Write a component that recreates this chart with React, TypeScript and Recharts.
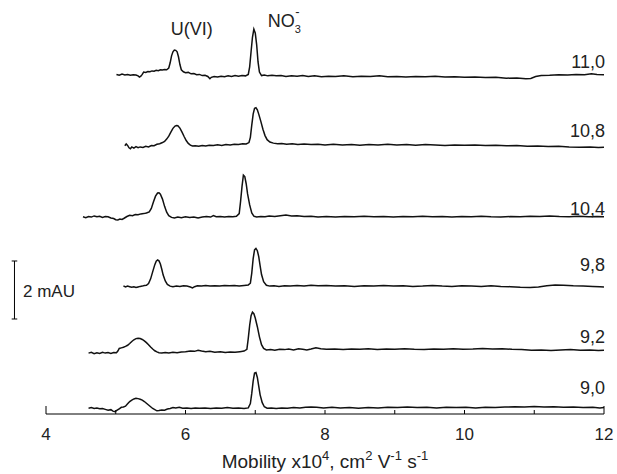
import React from 'react';
import { LineChart, Line, XAxis, YAxis, ReferenceDot, ReferenceLine } from 'recharts';

const FONT = '"Liberation Sans", Arial, Helvetica, sans-serif';
const INK = '#111';

// pH labels for the six electropherograms (top to bottom)
const pHLabels = ['11,0', '10,8', '10,4', '9,8', '9,2', '9,0'];
// vertical offsets of each trace baseline (mAU)
const baselineOffsets = [11.69, 9.24, 6.79, 4.41, 2.21, 0.21];
// height of each pH label above its trace (mAU)
const labelLift = [0.24, 0.31, 0.07, 0.53, 0.24, 0.48];

const xTicks = [4, 5, 6, 7, 8, 9, 10, 11, 12];

// [mobility x10^4, signal mAU relative to baseline]
const trace110: [number, number][] = [
  [5.01,0.02],[5.05,-0.01],[5.09,0.03],[5.13,0.00],[5.17,0.02],[5.21,-0.01],[5.25,0.01],[5.29,0.00],[5.32,-0.03],[5.34,-0.07],[5.36,-0.04],[5.38,0.02],[5.40,0.10],[5.43,0.09],[5.46,0.12],[5.49,0.11],[5.52,0.14],[5.55,0.13],[5.58,0.16],[5.61,0.15],[5.64,0.18],[5.67,0.17],[5.70,0.19],[5.73,0.18],[5.76,0.24],[5.78,0.42],[5.80,0.66],[5.82,0.80],[5.84,0.86],[5.86,0.85],[5.88,0.80],[5.90,0.62],[5.92,0.36],[5.94,0.18],[5.97,0.11],[6.00,0.08],[6.04,0.09],[6.08,0.04],[6.12,0.05],[6.16,0.01],[6.20,0.02],[6.24,-0.02],[6.28,-0.01],[6.32,-0.05],[6.35,-0.13],[6.37,-0.08],[6.41,-0.05],[6.46,-0.07],[6.51,-0.04],[6.56,-0.06],[6.61,-0.03],[6.66,-0.05],[6.71,-0.02],[6.76,-0.04],[6.81,-0.02],[6.86,-0.03],[6.90,0.02],[6.92,0.28],[6.94,0.80],[6.96,1.30],[6.98,1.58],[7.00,1.45],[7.02,1.05],[7.04,0.45],[7.06,0.10],[7.09,-0.02],[7.13,0.00],[7.18,-0.03],[7.24,-0.01],[7.30,-0.03],[7.37,-0.02],[7.44,-0.05],[7.52,-0.03],[7.60,-0.04],[7.68,-0.02],[7.76,-0.05],[7.85,-0.03],[7.95,-0.06],[8.05,-0.04],[8.15,-0.05],[8.27,-0.03],[8.40,-0.06],[8.52,-0.04],[8.65,-0.05],[8.78,-0.03],[8.90,-0.06],[9.03,-0.05],[9.16,-0.07],[9.30,-0.05],[9.44,-0.06],[9.58,-0.04],[9.72,-0.07],[9.86,-0.06],[10.00,-0.08],[10.15,-0.07],[10.30,-0.09],[10.45,-0.08],[10.60,-0.11],[10.75,-0.10],[10.88,-0.13],[10.95,-0.12],[11.02,-0.05],[11.10,-0.02],[11.22,-0.01],[11.35,0.01],[11.48,0.00],[11.60,0.02],[11.72,0.01],[11.82,0.04],[11.90,0.02],[12.00,0.01],
];

const trace108: [number, number][] = [
  [5.13,0.01],[5.15,0.07],[5.17,0.02],[5.19,-0.06],[5.21,-0.09],[5.23,-0.03],[5.26,-0.07],[5.29,-0.02],[5.32,-0.06],[5.35,-0.03],[5.39,-0.05],[5.43,-0.01],[5.47,-0.03],[5.51,0.02],[5.55,0.01],[5.59,0.06],[5.63,0.08],[5.67,0.12],[5.70,0.16],[5.73,0.24],[5.76,0.34],[5.79,0.48],[5.82,0.61],[5.85,0.69],[5.87,0.71],[5.89,0.70],[5.92,0.62],[5.95,0.48],[5.98,0.33],[6.01,0.19],[6.04,0.09],[6.07,0.03],[6.10,0.00],[6.14,0.01],[6.19,-0.01],[6.24,0.02],[6.29,0.00],[6.34,0.03],[6.40,0.02],[6.46,0.04],[6.52,0.02],[6.58,0.05],[6.64,0.04],[6.70,0.06],[6.76,0.05],[6.82,0.08],[6.87,0.07],[6.91,0.12],[6.93,0.30],[6.95,0.72],[6.97,1.10],[6.99,1.30],[7.01,1.32],[7.03,1.25],[7.05,1.10],[7.08,0.85],[7.11,0.58],[7.14,0.36],[7.17,0.22],[7.21,0.14],[7.26,0.10],[7.32,0.08],[7.38,0.09],[7.45,0.06],[7.53,0.08],[7.61,0.05],[7.70,0.07],[7.80,0.05],[7.90,0.06],[8.00,0.04],[8.12,0.06],[8.25,0.04],[8.38,0.05],[8.50,0.03],[8.63,0.05],[8.76,0.04],[8.90,0.06],[9.03,0.04],[9.17,0.05],[9.30,0.03],[9.44,0.05],[9.58,0.04],[9.72,0.02],[9.86,0.04],[10.00,0.03],[10.15,0.04],[10.30,0.02],[10.45,0.03],[10.60,0.01],[10.75,0.02],[10.90,-0.01],[11.05,0.00],[11.20,-0.02],[11.35,-0.01],[11.50,-0.03],[11.65,-0.04],[11.80,-0.03],[11.92,-0.05],[12.00,-0.04],
];

const trace104: [number, number][] = [
  [4.53,0.01],[4.57,-0.02],[4.61,0.02],[4.65,0.00],[4.69,0.04],[4.73,0.01],[4.77,0.03],[4.81,-0.01],[4.85,0.02],[4.89,0.01],[4.93,-0.03],[4.97,-0.05],[5.00,-0.09],[5.03,-0.10],[5.06,-0.07],[5.09,-0.08],[5.12,-0.04],[5.16,0.02],[5.20,0.06],[5.24,0.05],[5.28,0.09],[5.32,0.08],[5.36,0.11],[5.40,0.12],[5.44,0.14],[5.48,0.18],[5.51,0.30],[5.54,0.52],[5.57,0.72],[5.60,0.83],[5.62,0.84],[5.64,0.79],[5.67,0.62],[5.70,0.37],[5.73,0.17],[5.76,0.05],[5.80,-0.01],[5.84,-0.03],[5.89,0.00],[5.94,-0.02],[6.00,0.01],[6.06,-0.01],[6.12,0.00],[6.18,-0.03],[6.24,0.00],[6.30,0.02],[6.36,0.00],[6.40,0.05],[6.44,0.01],[6.50,0.02],[6.56,0.00],[6.62,0.02],[6.68,0.01],[6.73,0.03],[6.77,0.12],[6.79,0.55],[6.81,1.05],[6.83,1.45],[6.85,1.40],[6.87,1.15],[6.89,0.80],[6.92,0.42],[6.95,0.14],[6.98,0.03],[7.02,0.00],[7.08,0.02],[7.14,0.01],[7.20,0.04],[7.28,0.02],[7.36,0.05],[7.44,0.07],[7.52,0.04],[7.60,0.05],[7.70,0.02],[7.80,0.03],[7.90,0.00],[8.02,0.02],[8.15,0.00],[8.28,0.02],[8.42,0.01],[8.56,0.03],[8.70,0.01],[8.84,0.02],[8.98,0.00],[9.12,0.02],[9.26,0.01],[9.40,0.03],[9.54,0.01],[9.68,0.02],[9.82,0.00],[9.96,0.02],[10.10,0.01],[10.24,0.03],[10.38,0.01],[10.52,0.00],[10.66,0.02],[10.80,0.01],[10.94,0.03],[11.08,0.02],[11.22,0.04],[11.36,0.02],[11.50,0.01],[11.64,0.03],[11.78,0.01],[11.90,0.02],[12.00,0.01],
];

const trace98: [number, number][] = [
  [5.11,0.01],[5.14,-0.03],[5.17,0.00],[5.20,-0.02],[5.23,-0.04],[5.26,-0.02],[5.29,-0.05],[5.32,-0.03],[5.35,-0.01],[5.38,0.00],[5.41,0.02],[5.44,0.03],[5.47,0.09],[5.50,0.25],[5.53,0.50],[5.56,0.74],[5.58,0.86],[5.60,0.90],[5.62,0.87],[5.64,0.76],[5.66,0.58],[5.68,0.38],[5.71,0.18],[5.74,0.06],[5.78,0.00],[5.82,-0.02],[5.87,0.00],[5.92,-0.01],[5.97,0.01],[6.02,0.00],[6.07,-0.03],[6.10,-0.06],[6.13,-0.02],[6.17,0.01],[6.23,0.00],[6.29,0.02],[6.35,0.00],[6.42,0.01],[6.49,0.00],[6.56,0.02],[6.63,0.01],[6.70,0.02],[6.77,0.00],[6.84,0.02],[6.90,0.04],[6.93,0.10],[6.95,0.45],[6.97,0.95],[6.99,1.25],[7.01,1.30],[7.03,1.22],[7.05,1.02],[7.07,0.70],[7.09,0.40],[7.12,0.15],[7.16,0.03],[7.21,0.00],[7.27,0.01],[7.34,-0.01],[7.42,0.01],[7.50,0.00],[7.60,0.02],[7.70,0.00],[7.80,0.03],[7.90,0.01],[8.02,0.02],[8.15,0.00],[8.28,0.01],[8.42,-0.01],[8.56,0.01],[8.70,0.00],[8.84,0.02],[8.98,0.00],[9.12,0.01],[9.26,-0.01],[9.40,0.00],[9.54,0.02],[9.68,0.00],[9.82,-0.01],[9.96,0.01],[10.10,0.00],[10.24,-0.01],[10.38,0.01],[10.52,-0.01],[10.66,-0.02],[10.80,-0.04],[10.94,-0.05],[11.06,-0.03],[11.18,0.01],[11.30,0.04],[11.42,0.03],[11.56,0.01],[11.70,0.00],[11.84,-0.01],[11.94,-0.02],[12.00,-0.03],
];

const trace92: [number, number][] = [
  [4.61,-0.11],[4.65,-0.08],[4.69,-0.13],[4.73,-0.10],[4.77,-0.12],[4.81,-0.08],[4.85,-0.11],[4.89,-0.09],[4.93,-0.12],[4.97,-0.09],[5.01,-0.10],[5.03,-0.04],[5.05,0.05],[5.08,0.07],[5.11,0.09],[5.14,0.12],[5.17,0.16],[5.20,0.22],[5.23,0.29],[5.26,0.35],[5.29,0.39],[5.32,0.40],[5.35,0.39],[5.38,0.36],[5.41,0.31],[5.44,0.25],[5.47,0.18],[5.50,0.10],[5.53,0.03],[5.56,-0.03],[5.59,-0.07],[5.62,-0.10],[5.66,-0.11],[5.71,-0.09],[5.76,-0.11],[5.82,-0.08],[5.88,-0.10],[5.94,-0.07],[6.00,-0.06],[6.07,-0.04],[6.13,-0.05],[6.18,-0.01],[6.23,-0.04],[6.29,-0.06],[6.35,-0.05],[6.42,-0.08],[6.50,-0.06],[6.57,-0.09],[6.64,-0.07],[6.71,-0.08],[6.78,-0.06],[6.84,-0.04],[6.88,0.02],[6.90,0.40],[6.92,0.85],[6.94,1.18],[6.96,1.30],[6.98,1.25],[7.00,1.10],[7.03,0.80],[7.06,0.45],[7.09,0.18],[7.12,0.05],[7.16,0.00],[7.22,0.01],[7.28,-0.01],[7.35,0.02],[7.42,0.01],[7.48,0.03],[7.55,0.00],[7.62,0.04],[7.68,0.02],[7.74,0.00],[7.80,0.03],[7.87,0.07],[7.94,0.04],[8.02,0.02],[8.14,0.03],[8.26,0.01],[8.38,0.03],[8.50,0.02],[8.62,0.04],[8.75,0.01],[8.88,0.03],[9.00,0.02],[9.14,0.04],[9.28,0.02],[9.42,0.01],[9.56,0.03],[9.70,0.02],[9.84,0.04],[9.98,0.02],[10.12,0.03],[10.26,0.05],[10.40,0.03],[10.54,0.04],[10.68,0.02],[10.82,0.01],[10.96,-0.01],[11.10,0.00],[11.24,-0.02],[11.38,0.00],[11.52,0.01],[11.66,-0.01],[11.80,0.00],[11.92,-0.02],[12.00,-0.01],
];

const trace90: [number, number][] = [
  [4.61,-0.01],[4.65,0.01],[4.69,-0.02],[4.73,0.00],[4.77,-0.03],[4.81,-0.02],[4.85,-0.05],[4.89,-0.08],[4.93,-0.06],[4.96,-0.11],[4.99,-0.13],[5.02,-0.08],[5.05,-0.03],[5.08,0.02],[5.11,0.03],[5.14,0.06],[5.17,0.14],[5.20,0.22],[5.23,0.27],[5.26,0.31],[5.29,0.33],[5.32,0.32],[5.35,0.30],[5.38,0.27],[5.41,0.22],[5.44,0.16],[5.47,0.10],[5.50,0.04],[5.53,-0.02],[5.56,-0.06],[5.59,-0.10],[5.62,-0.09],[5.66,-0.07],[5.70,-0.08],[5.74,-0.04],[5.78,-0.02],[5.82,0.01],[5.86,0.00],[5.91,0.02],[5.96,-0.01],[6.02,0.00],[6.08,-0.02],[6.14,0.00],[6.20,-0.01],[6.28,0.00],[6.36,-0.02],[6.44,0.00],[6.52,-0.01],[6.60,0.01],[6.68,-0.01],[6.76,0.00],[6.84,-0.02],[6.90,0.00],[6.93,0.15],[6.95,0.50],[6.97,0.92],[6.99,1.20],[7.01,1.22],[7.03,1.05],[7.05,0.75],[7.07,0.45],[7.10,0.18],[7.13,0.04],[7.17,-0.01],[7.23,0.00],[7.30,-0.02],[7.38,0.00],[7.46,-0.01],[7.55,0.01],[7.64,0.00],[7.72,0.02],[7.80,0.03],[7.88,0.02],[7.98,0.00],[8.10,0.02],[8.22,0.00],[8.35,0.01],[8.48,-0.01],[8.62,0.01],[8.76,0.00],[8.90,0.02],[9.04,0.01],[9.18,0.03],[9.32,0.01],[9.46,0.02],[9.60,0.00],[9.74,0.02],[9.88,0.01],[10.02,0.02],[10.16,0.00],[10.30,0.02],[10.44,0.01],[10.58,0.03],[10.72,0.04],[10.86,0.03],[11.00,0.05],[11.14,0.03],[11.28,0.04],[11.42,0.02],[11.56,0.03],[11.70,0.01],[11.84,0.02],[11.94,0.00],[12.00,0.01],
];

const traces = [trace110, trace108, trace104, trace98, trace92, trace90];

// scale bar: 2 mAU
const scaleBarValue = 2;
const scaleBarX = 3.548;
const scaleBarBottom = 3.276;

const seriesData = traces.map((t, i) =>
  t.map(([x, y]) => ({ x, y: y + baselineOffsets[i] }))
);

function AxisTick(props: any) {
  const { x, y, payload } = props;
  const v = payload.value;
  const isEnd = v === 4 || v === 12;
  const isMajor = v % 2 === 0;
  return (
    <g>
      <line x1={x} x2={x} y1={y} y2={y - (isEnd ? 8 : 4)} stroke="#000" strokeWidth={1} />
      {isMajor && (
        <text x={x} y={y + 26} textAnchor="middle" fontSize={17} fontFamily={FONT} fill="#222">
          {v}
        </text>
      )}
    </g>
  );
}

function AxisTitle(props: any) {
  const vb = props.viewBox || { x: 46, y: 414, width: 558, height: 60 };
  const cx = vb.x + vb.width / 2;
  const y = vb.y + 54;
  return (
    <text x={cx} y={y} textAnchor="middle" fontSize={19} fontFamily={FONT} fill="#222">
      Mobility x10
      <tspan dy={-8} fontSize={13}>4</tspan>
      <tspan dy={8}>, cm</tspan>
      <tspan dy={-8} fontSize={13}>2</tspan>
      <tspan dy={8}> V</tspan>
      <tspan dy={-8} fontSize={13}>-1</tspan>
      <tspan dy={8}> s</tspan>
      <tspan dy={-8} fontSize={13}>-1</tspan>
    </text>
  );
}

const textAt = (text: string, anchor: 'start' | 'middle' | 'end', size: number) => (p: any) => {
  const vb = p.viewBox || {};
  return (
    <text x={vb.x} y={vb.y} textAnchor={anchor} fontSize={size} fontFamily={FONT} fill="#222">
      {text}
    </text>
  );
};

const no3Label = (p: any) => {
  const vb = p.viewBox || {};
  return (
    <g fontFamily={FONT} fill="#222">
      <text x={vb.x} y={vb.y} fontSize={18}>NO</text>
      <text x={vb.x + 27} y={vb.y + 6} fontSize={11}>3</text>
      <text x={vb.x + 27.5} y={vb.y - 11} fontSize={13}>-</text>
    </g>
  );
};

export default function App() {
  return (
    <div style={{ position: 'absolute', left: 0, top: 0, background: '#fff' }}>
      <LineChart width={617} height={474} margin={{ top: 8, right: 13, left: 46, bottom: 0 }}>
        <XAxis
          type="number"
          dataKey="x"
          domain={[4, 12]}
          allowDataOverflow
          ticks={xTicks}
          interval={0}
          tickLine={false}
          tickSize={0}
          tickMargin={0}
          tick={<AxisTick />}
          height={60}
          axisLine={{ stroke: '#000', strokeWidth: 1 }}
          label={{ content: (p: any) => <AxisTitle {...p} /> }}
        />
        <YAxis type="number" domain={[0, 14]} hide allowDataOverflow />
        {seriesData.map((d, i) => (
          <Line
            key={pHLabels[i]}
            data={d}
            dataKey="y"
            type="linear"
            stroke={INK}
            strokeWidth={1.5}
            dot={false}
            isAnimationActive={false}
          />
        ))}
        {pHLabels.map((lab, i) => (
          <ReferenceDot
            key={'l' + lab}
            x={12.014}
            y={baselineOffsets[i] + labelLift[i]}
            r={0}
            stroke="none"
            fill="none"
            ifOverflow="visible"
            label={textAt(lab, 'end', 18)}
          />
        ))}
        <ReferenceDot x={6.09} y={13.07} r={0} stroke="none" fill="none" ifOverflow="visible" label={textAt('U(VI)', 'middle', 18)} />
        <ReferenceDot x={7.18} y={13.34} r={0} stroke="none" fill="none" ifOverflow="visible" label={no3Label} />
        <ReferenceLine
          segment={[{ x: scaleBarX, y: scaleBarBottom }, { x: scaleBarX, y: scaleBarBottom + scaleBarValue }]}
          stroke="#000"
          strokeWidth={1}
          ifOverflow="visible"
        />
        <ReferenceLine
          segment={[{ x: scaleBarX - 0.04, y: scaleBarBottom }, { x: scaleBarX + 0.04, y: scaleBarBottom }]}
          stroke="#000"
          strokeWidth={1}
          ifOverflow="visible"
        />
        <ReferenceLine
          segment={[{ x: scaleBarX - 0.04, y: scaleBarBottom + scaleBarValue }, { x: scaleBarX + 0.04, y: scaleBarBottom + scaleBarValue }]}
          stroke="#000"
          strokeWidth={1}
          ifOverflow="visible"
        />
        <ReferenceDot x={3.67} y={4.03} r={0} stroke="none" fill="none" ifOverflow="visible" label={textAt('2 mAU', 'start', 17)} />
      </LineChart>
    </div>
  );
}
